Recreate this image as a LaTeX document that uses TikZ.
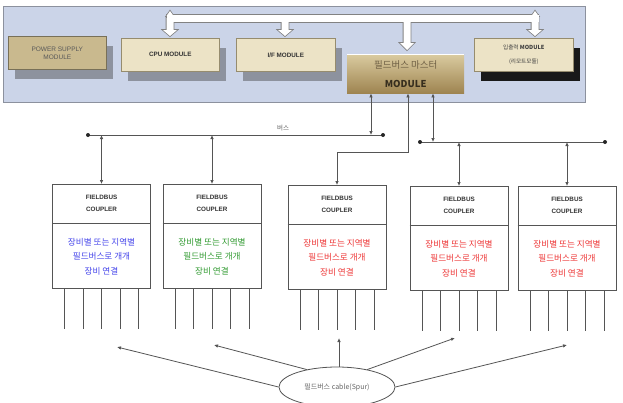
\documentclass[tikz,border=0pt]{standalone}
\usepackage{fontspec}
\setmainfont{Liberation Sans}
\newfontfamily\kr{Noto Sans CJK KR}
\usetikzlibrary{arrows.meta,calc,shadows,shapes.geometric}
\definecolor{panelfill}{RGB}{203,212,232}
\definecolor{panelline}{RGB}{140,145,158}
\definecolor{shgray}{RGB}{141,146,158}
\definecolor{psfill}{RGB}{201,185,142}
\definecolor{modfill}{RGB}{236,227,198}
\definecolor{modline}{RGB}{150,140,110}
\definecolor{linegray}{RGB}{85,85,85}
\definecolor{busgray}{RGB}{130,130,130}
\definecolor{mtop}{RGB}{218,203,160}
\definecolor{mbot}{RGB}{158,132,80}
\definecolor{kblue}{RGB}{70,70,235}
\definecolor{kgreen}{RGB}{50,155,50}
\definecolor{kred}{RGB}{238,55,55}
\newcommand\wshapes[1]{%
 \path[#1] (166.5,15) rectangle (538.5,22);
 \path[#1] (166.5,16) -- (170,11) -- (173.5,16) -- cycle;
 \path[#1] (531.5,16) -- (535,11) -- (538.5,16) -- cycle;
 \foreach \xx/\se/\tp in {170/30/36,285/30/36,407/43/50,535/30/36}
  \path[#1] (\xx-3.5,18) -- (\xx-3.5,\se) -- (\xx-7,\se) -- (\xx,\tp) -- (\xx+7,\se) -- (\xx+3.5,\se) -- (\xx+3.5,18) -- cycle;
}
\newcommand\mkcoupler[4]{%
 \node[coupler, anchor=north] (#1) at (#2,#3) {};
 \draw[cline] ($(#1.north west)+(0,39)$) -- ($(#1.north east)+(0,39)$);
 \node[hdr] (#1h) at ($(#1.north)+(0,19.5)$) {FIELDBUS\\COUPLER};
 \node[body, text=#4] (#1b) at ($(#1.south)+(0,-32.5)$) {장비별 또는 지역별\\필드버스로 개개\\장비 연결};
 \foreach \d in {-37,-18.5,0,18.5,37} \draw[cline] ($(#1.south)+(\d,0)$) -- ++(0,40);
}
\begin{document}
\begin{tikzpicture}[x=1pt,y=-1pt,
  modbox/.style={draw=modline, line width=0.6pt, inner sep=0pt, anchor=north west, align=center},
  sh/.style={general shadow={fill=shgray, shadow xshift=7pt, shadow yshift=-10pt}},
  cline/.style={draw=linegray, line width=0.8pt},
  coupler/.style={cline, fill=white, minimum width=98, minimum height=104, inner sep=0pt},
  hdr/.style={font=\bfseries\fontsize{6.3}{12}\selectfont, text=black!80, align=center},
  body/.style={font=\kr\fontsize{8.6}{14.5}\selectfont, align=center},
  dbl/.style={cline, {Latex[length=4pt,width=3.6pt]}-{Latex[length=4pt,width=3.6pt]}},
  one/.style={cline, -{Latex[length=4pt,width=3.6pt]}},
  dot/.style={fill=black!85}]
\fill[white] (0,0) rectangle (623,402);
\useasboundingbox (0,0) rectangle (623,402);
\clip (0,0) rectangle (623,402);
% panel
\node[draw=panelline, fill=panelfill, line width=0.8pt, minimum width=582, minimum height=96, anchor=north west, inner sep=0pt] (panel) at (3,6) {};
% white bus
\wshapes{draw=busgray,line width=1.6pt}
\wshapes{fill=white}
% modules
\node[modbox, sh, fill=psfill, draw=modline!80!black, minimum width=98, minimum height=33, text=black!65, font=\fontsize{6.5}{8}\selectfont] (ps) at (8,36) {POWER SUPPLY\\MODULE};
\node[modbox, sh, fill=modfill, minimum width=98, minimum height=33, text=black!80, font=\bfseries\fontsize{6.3}{8}\selectfont] (cpu) at (121,38) {CPU MODULE};
\node[modbox, sh, fill=modfill, minimum width=99, minimum height=33, text=black!80, font=\bfseries\fontsize{6.3}{8}\selectfont] (if) at (236,38) {I/F MODULE};
\node[modbox, general shadow={fill=black!90, shadow xshift=7pt, shadow yshift=-10pt}, fill=modfill, minimum width=99, minimum height=33, text=black!75, font=\kr\fontsize{5.6}{14}\selectfont] (io) at (474,38) {입출력 \textbf{MODULE}\\(리모트모듈)};
\node[anchor=north west, minimum width=117, minimum height=39, inner sep=0pt, top color=mtop, bottom color=mbot, align=center, font=\kr\fontsize{9.5}{19}\selectfont] (master) at (347,54) {{\color[RGB]{110,95,68}필드버스 마스터}\\{\color[RGB]{55,46,30}\bfseries MODULE}};
\draw[white, line width=0.8pt] (master.north west) -- (master.north east);
% buses
\coordinate (lbL) at (88,135);
\coordinate (lbR) at (383,135);
\coordinate (rbL) at (420,142);
\coordinate (rbR) at (605,142);
\draw[cline] (lbL) -- (lbR);
\draw[cline] (rbL) -- (rbR);
\foreach \p in {lbL,lbR,rbL,rbR} \fill[dot] (\p) circle (2pt);
\node[font=\kr\fontsize{6.5}{7}\selectfont, text=black!60] (buslbl) at (283,128) {버스};
% couplers
\mkcoupler{c1}{101.5}{184}{kblue}
\mkcoupler{c2}{212}{184}{kgreen}
\mkcoupler{c3}{337}{185}{kred}
\mkcoupler{c4}{459}{186}{kred}
\mkcoupler{c5}{567}{186}{kred}
% master connections
\coordinate (lbj) at (371,135);
\coordinate (m2) at (408,152);
\coordinate (rbj) at (433,142);
\draw[dbl] (master.south -| lbj) -- (lbj);
\draw[dbl] (master.south -| m2) -- (m2) -| (c3.north);
\draw[dbl] (master.south -| rbj) -- (rbj);
% bus to couplers
\draw[dbl] (c1.north |- lbL) -- (c1.north);
\draw[dbl] (c2.north |- lbL) -- (c2.north);
\draw[dbl] (c4.north |- rbL) -- (c4.north);
\draw[dbl] (c5.north |- rbL) -- (c5.north);
% cable ellipse
\node[ellipse, cline, fill=white, minimum width=116, minimum height=40, inner sep=0pt, font=\kr\fontsize{7}{8}\selectfont, text=black!60] (cab) at (337,387) {필드버스 cable(Spur)};
\coordinate (t1) at (117,347);
\coordinate (t2) at (214,345);
\coordinate (t3) at (339,338);
\coordinate (t4) at (455,338);
\coordinate (t5) at (567,345);
\draw[one] (cab.west) -- (t1);
\draw[one] (cab.150) -- (t2);
\draw[one] (cab.north -| t3) -- (t3);
\draw[one] (cab.30) -- (t4);
\draw[one] (cab.east) -- (t5);
\end{tikzpicture}
\end{document}
